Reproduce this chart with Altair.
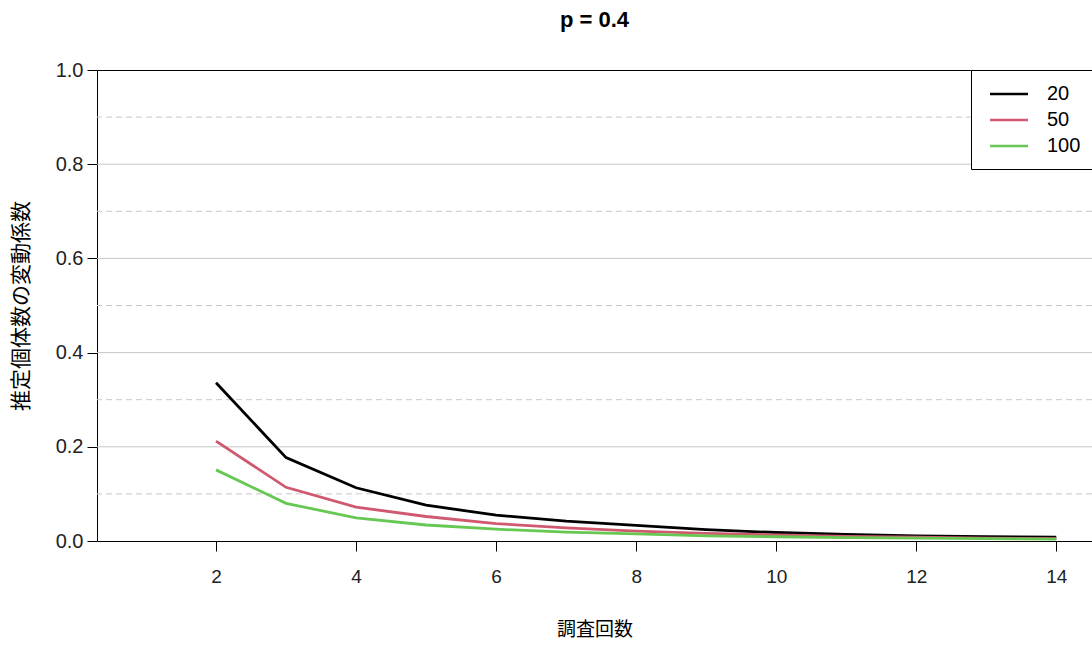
import altair as alt
import pandas as pd

rounds = [2, 3, 4, 5, 6, 7, 8, 9, 10, 11, 12, 13, 14]
cv_20 = [0.336, 0.177, 0.113, 0.076, 0.055, 0.042, 0.033, 0.024, 0.018, 0.014, 0.011, 0.009, 0.008]
cv_50 = [0.212, 0.114, 0.072, 0.052, 0.037, 0.028, 0.021, 0.016, 0.013, 0.010, 0.008, 0.006, 0.005]
cv_100 = [0.151, 0.080, 0.049, 0.034, 0.025, 0.019, 0.015, 0.011, 0.009, 0.007, 0.006, 0.005, 0.004]
series_names = ["20", "50", "100"]
series_colors = ["#000000", "#CF5A70", "#66C853"]
solid_grid = [0.2, 0.4, 0.6, 0.8]
dashed_grid = [0.1, 0.3, 0.5, 0.7, 0.9]
x_ticks = [2, 4, 6, 8, 10, 12, 14]
y_ticks = [0.0, 0.2, 0.4, 0.6, 0.8, 1.0]

rows = []
for name, vals in zip(series_names, [cv_20, cv_50, cv_100]):
    for r, v in zip(rounds, vals):
        rows.append({"n": name, "rounds": r, "cv": v})
df = pd.DataFrame(rows)

FONT = "Liberation Sans"
JP = "Noto Sans CJK JP"

yscale = alt.Scale(domain=[0, 1], nice=False, zero=False)
xscale = alt.Scale(domain=[0.3, 14.51], nice=False, zero=False)

y_axis = alt.Axis(
    values=y_ticks,
    format=".1f",
    title="推定個体数の変動係数",
    titleFont=JP,
    titleFontSize=21,
    titleFontWeight="normal",
    titleColor="#000",
    titlePadding=24,
    labelFont=FONT,
    labelFontSize=20,
    labelColor="#222",
    labelPadding=4,
    tickColor="#000",
    tickSize=10,
    domain=False,
    grid=False,
)

x_axis = alt.Axis(
    values=x_ticks,
    title="調査回数",
    titleFont=JP,
    titleFontSize=19,
    titleFontWeight="normal",
    titleColor="#000",
    titlePadding=34,
    labelFont=FONT,
    labelFontSize=19,
    labelColor="#222",
    labelPadding=16,
    tickColor="#000",
    tickSize=10,
    domain=False,
    grid=False,
)

solid = alt.Chart(pd.DataFrame({"y": solid_grid})).mark_rule(
    color="#c8c8c8", strokeWidth=1
).encode(y=alt.Y("y:Q", scale=yscale, axis=y_axis))

dashed = alt.Chart(pd.DataFrame({"y": dashed_grid})).mark_rule(
    color="#c8c8c8", strokeWidth=1, strokeDash=[6, 4]
).encode(y=alt.Y("y:Q", scale=yscale, axis=y_axis))

lines = alt.Chart(df).mark_line(strokeWidth=2.8).encode(
    x=alt.X("rounds:Q", scale=xscale, axis=x_axis),
    y=alt.Y("cv:Q", scale=yscale, axis=y_axis),
    color=alt.Color(
        "n:N",
        scale=alt.Scale(domain=series_names, range=series_colors),
        sort=series_names,
        legend=alt.Legend(
            title=None,
            orient="none",
            legendX=874,
            legendY=0,
            symbolType="M-2,0L2,0",
            symbolSize=361,
            symbolStrokeWidth=2.6,
            symbolOffset=14,
            labelFont=FONT,
            labelFontSize=20,
            labelColor="#000",
            labelOffset=27,
            rowPadding=5,
            padding=13,
            strokeColor="#000",
            fillColor="#fff",
            cornerRadius=0,
        ),
    ),
)

chart = (
    alt.layer(solid, dashed, lines)
    .properties(
        width=995,
        height=471,
        title=alt.TitleParams(
            "p = 0.4", font=FONT, fontSize=22, fontWeight="bold", color="#000", offset=28
        ),
        autosize=alt.AutoSizeParams(type="none"),
        padding={"left": 97, "top": 70, "right": 0, "bottom": 112},
    )
    .configure(background="#ffffff")
    .configure_view(stroke="#000", strokeWidth=1)
)

chart.save("out.html", embed_options={"renderer": "svg", "actions": False})
